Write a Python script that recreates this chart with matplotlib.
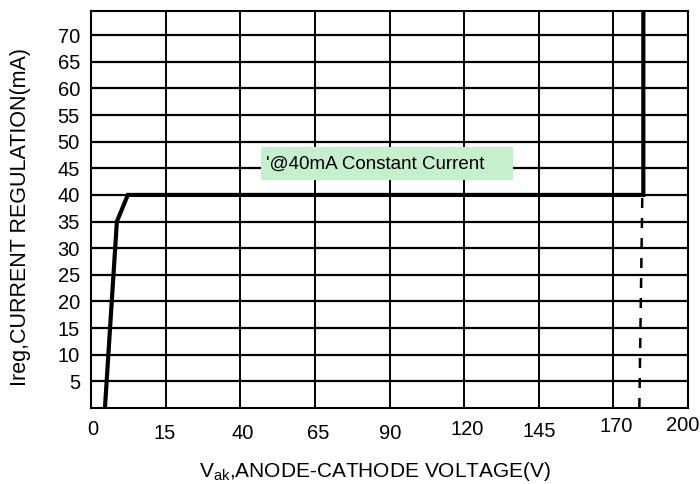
import numpy as np
import matplotlib
matplotlib.use("Agg")
import matplotlib.pyplot as plt
from matplotlib.transforms import ScaledTranslation

plt.rcParams['font.family'] = ['Liberation Sans', 'DejaVu Sans']

# Axis tick labels (x axis is drawn with evenly spaced, non-linear labels)
x_tick_values = [0, 15, 40, 65, 90, 120, 145, 170, 200]
y_tick_values = [5, 10, 15, 20, 25, 30, 35, 40, 45, 50, 55, 60, 65, 70]

# Curve (volts, mA)
curve_v = [2.8, 5.2, 7.4, 182.0, 182.0]
curve_i = [0, 35, 40, 40, 76]

# Dashed breakdown line (volts, mA)
dash_v = [180.4, 181.6]
dash_i = [0, 40]

annotation = "'@40mA Constant Current"

# small per-label placement nudges seen in the reference (pixels: dx, dy down)
x_label_nudge = [(2, -1), (-1.5, 3), (2, 3), (3, 3), (1, 3), (3, -1), (0, 1), (3, -4), (-5, -5)]

def vpos(v):
    return np.interp(v, x_tick_values, np.arange(len(x_tick_values)))

fig = plt.figure(figsize=(7.0, 4.84), dpi=100)
ax = fig.add_axes([0.130, 0.157, 0.853, 0.820])

ax.set_xlim(0, len(x_tick_values) - 1)
ax.set_ylim(0, 74.5)

# grid
for i in range(1, len(x_tick_values) - 1):
    ax.axvline(i, color='black', lw=1.4, zorder=1)
for y in y_tick_values:
    ax.axhline(y, color='black', lw=1.6, zorder=1)

ax.plot(vpos(curve_v), curve_i, color='black', lw=3.0, zorder=3,
        solid_joinstyle='miter')
ax.plot(vpos(dash_v), dash_i, color='black', lw=1.8, ls=(0, (4, 4)), zorder=3)

ax.set_xticks(np.arange(len(x_tick_values)))
ax.set_xticklabels([str(v) for v in x_tick_values], fontsize=14.5)
ax.set_yticks(y_tick_values)
ax.set_yticklabels([str(v) for v in y_tick_values], fontsize=14.5)
ax.tick_params(axis='both', length=0)
ax.tick_params(axis='x', pad=9)
ax.tick_params(axis='y', pad=8)

for lbl, (dx, dy) in zip(ax.get_xticklabels(), x_label_nudge):
    lbl.set_transform(lbl.get_transform() +
                      ScaledTranslation(dx / 100, -dy / 100, fig.dpi_scale_trans))

for s in ax.spines.values():
    s.set_linewidth(1.5)
    s.set_color('black')

ax.set_xlabel(r"V$_{\mathregular{ak}}$,ANODE-CATHODE VOLTAGE(V)", fontsize=15)
ax.xaxis.set_label_coords(0.476, -0.130)
ax.set_ylabel("Ireg,CURRENT REGULATION(mA)", fontsize=15.5)
ax.yaxis.set_label_coords(-0.100, 0.481)

# annotation box (green)
fig.patches.append(matplotlib.patches.Rectangle(
    (261 / 700, 1 - 180 / 484), (513 - 261) / 700, (180 - 147) / 484,
    transform=fig.transFigure, facecolor='#c6efce', edgecolor='none', zorder=5))
fig.text(266 / 700, 1 - 164 / 484, annotation, fontsize=13.5, va='center', ha='left', zorder=6)

fig.savefig("out.png", dpi=100)
